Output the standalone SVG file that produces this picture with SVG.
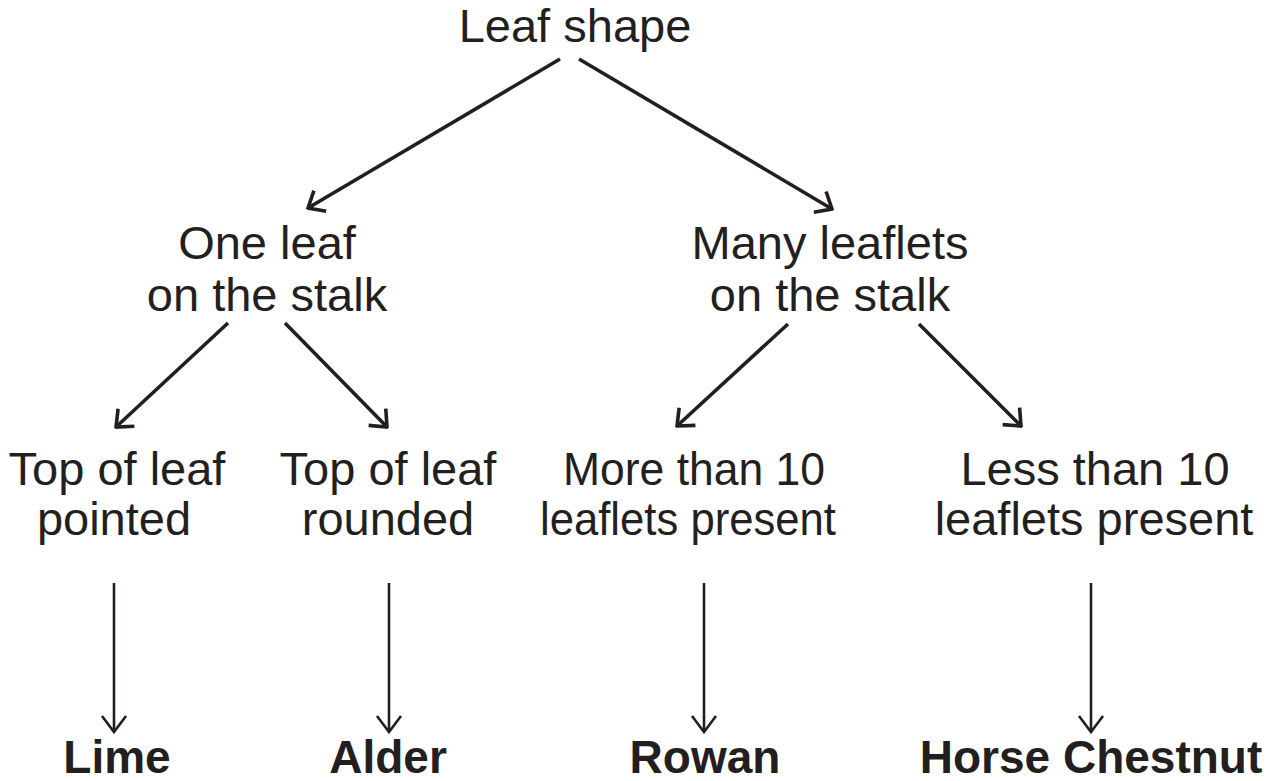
<svg xmlns="http://www.w3.org/2000/svg" width="1271" height="781" viewBox="0 0 1271 781">
<style>
  text { font-family: "Liberation Sans", Arial, sans-serif; fill: #231f20; text-anchor: middle; }
  .n { font-size: 47px; }
  .b { font-size: 46px; font-weight: bold; }
  .d { stroke: #231f20; stroke-width: 3.6; fill: none; }
  .v { stroke: #231f20; stroke-width: 2.6; fill: none; }
</style>
<defs>
  <marker id="ah" viewBox="-20 -14 22 28" markerWidth="22" markerHeight="28" refX="0" refY="0" orient="auto" markerUnits="userSpaceOnUse">
    <path d="M-14,-12 L0,0 L-14,12" fill="none" stroke="#231f20" stroke-width="3.6"/>
  </marker>
  <marker id="av" viewBox="-20 -14 22 28" markerWidth="22" markerHeight="28" refX="0" refY="0" orient="auto" markerUnits="userSpaceOnUse">
    <path d="M-16,-12 L0,0 L-16,12" fill="none" stroke="#231f20" stroke-width="2.6"/>
  </marker>
</defs>
<rect width="1271" height="781" fill="#ffffff"/>
<g id="connectors">
  <line class="d" x1="560" y1="59" x2="308" y2="208" marker-end="url(#ah)"/>
  <line class="d" x1="579" y1="59" x2="832" y2="209" marker-end="url(#ah)"/>
  <line class="d" x1="228" y1="323" x2="116" y2="427" marker-end="url(#ah)"/>
  <line class="d" x1="285" y1="323" x2="387" y2="427" marker-end="url(#ah)"/>
  <line class="d" x1="788" y1="324" x2="677" y2="426" marker-end="url(#ah)"/>
  <line class="d" x1="919" y1="324" x2="1021" y2="426" marker-end="url(#ah)"/>
  <line class="v" x1="114" y1="583" x2="114" y2="732" marker-end="url(#av)"/>
  <line class="v" x1="389" y1="583" x2="389" y2="732" marker-end="url(#av)"/>
  <line class="v" x1="704" y1="583" x2="704" y2="732" marker-end="url(#av)"/>
  <line class="v" x1="1091" y1="583" x2="1091" y2="732" marker-end="url(#av)"/>
</g>
<g id="root"><text class="n" x="575" y="42">Leaf shape</text></g>
<g id="one-leaf"><text class="n" x="267" y="259">One leaf</text><text class="n" x="267" y="311">on the stalk</text></g>
<g id="many-leaflets"><text class="n" x="830" y="259">Many leaflets</text><text class="n" x="830" y="311">on the stalk</text></g>
<g id="pointed"><text class="n" x="117" y="485">Top of leaf</text><text class="n" x="114" y="535">pointed</text></g>
<g id="rounded"><text class="n" x="388" y="485">Top of leaf</text><text class="n" x="388" y="535">rounded</text></g>
<g id="more-than-10"><text class="n" x="694" y="485" textLength="262" lengthAdjust="spacingAndGlyphs">More than 10</text><text class="n" x="688" y="535" textLength="296" lengthAdjust="spacingAndGlyphs">leaflets present</text></g>
<g id="less-than-10"><text class="n" x="1095" y="485">Less than 10</text><text class="n" x="1094" y="535">leaflets present</text></g>
<g id="lime"><text class="b" x="117" y="773">Lime</text></g>
<g id="alder"><text class="b" x="388" y="773">Alder</text></g>
<g id="rowan"><text class="b" x="705" y="773">Rowan</text></g>
<g id="horse-chestnut"><text class="b" x="1091" y="773">Horse Chestnut</text></g>
</svg>
